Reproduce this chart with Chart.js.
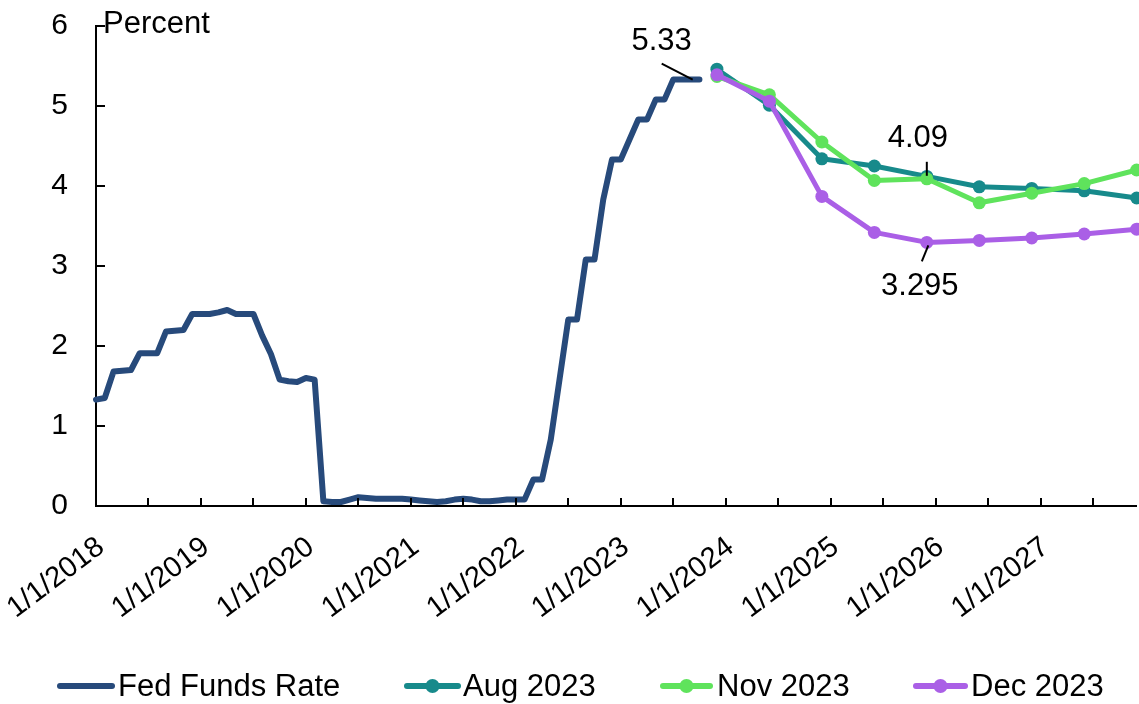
<!DOCTYPE html>
<html>
<head>
<meta charset="utf-8">
<script src="https://cdn.jsdelivr.net/npm/chart.js@4.4.0/dist/chart.umd.min.js"></script>
<style>
  html, body { margin: 0; padding: 0; background: #ffffff; }
  canvas { display: block; }
</style>
</head>
<body>
<canvas id="chart" width="1139" height="704"></canvas>
<script>
// ---------------- DATA ----------------
const startYear = 2018;          // month index 0 = Jan 2018
const lastMonthIndex = 119;      // Dec 2027

// Fed Funds Rate, monthly, Jan 2018 .. Oct 2023 (percent)
const ffrValues = [
  1.33, 1.35, 1.68, 1.69, 1.70, 1.91, 1.91, 1.91, 2.18, 2.19, 2.20, 2.40,
  2.40, 2.40, 2.42, 2.45, 2.40, 2.40, 2.40, 2.13, 1.90, 1.58, 1.56, 1.55,
  1.60, 1.58, 0.06, 0.05, 0.05, 0.08, 0.11, 0.10, 0.09, 0.09, 0.09, 0.09,
  0.08, 0.07, 0.06, 0.05, 0.06, 0.08, 0.09, 0.08, 0.06, 0.06, 0.07, 0.08,
  0.08, 0.08, 0.33, 0.33, 0.83, 1.58, 2.33, 2.33, 3.08, 3.08, 3.83, 4.33,
  4.33, 4.58, 4.83, 4.83, 5.08, 5.08, 5.33, 5.33, 5.33, 5.33
];

// Projection dates (year-month)
const forecastDates = ['2023-12', '2024-06', '2024-12', '2025-06', '2025-12',
                       '2026-06', '2026-12', '2027-06', '2027-12'];
const aug2023 = [5.46, 5.01, 4.34, 4.25, 4.12, 3.99, 3.97, 3.94, 3.85];
const nov2023 = [5.37, 5.14, 4.55, 4.07, 4.09, 3.79, 3.91, 4.03, 4.20];
const dec2023 = [5.39, 5.06, 3.87, 3.42, 3.295, 3.32, 3.35, 3.40, 3.46];

const seriesNames = ['Fed Funds Rate', 'Aug 2023', 'Nov 2023', 'Dec 2023'];
const xTickLabels = ['1/1/2018', '1/1/2019', '1/1/2020', '1/1/2021', '1/1/2022',
                     '1/1/2023', '1/1/2024', '1/1/2025', '1/1/2026', '1/1/2027'];
const yTickValues = [0, 1, 2, 3, 4, 5, 6];
const yAxisTitle = 'Percent';

// Callouts: [series index, date, value text]
const callouts = [
  { series: 0, date: '2023-09', text: '5.33' },
  { series: 2, date: '2025-12', text: '4.09' },
  { series: 3, date: '2025-12', text: '3.295' }
];

// ---------------- STYLE ----------------
const FONT = '"Liberation Sans", Arial, Helvetica, sans-serif';
const colors = ['#274A7B', '#178A8B', '#5FE35C', '#AA5FE6'];

function monthIndex(s) {
  const parts = s.split('-').map(Number);
  return (parts[0] - startYear) * 12 + (parts[1] - 1);
}

const ffrPoints = ffrValues.map((v, i) => ({ x: i, y: v }));
const fcX = forecastDates.map(monthIndex);
const toPts = arr => arr.map((v, i) => ({ x: fcX[i], y: v }));

const datasets = [
  { label: seriesNames[0], data: ffrPoints, borderColor: colors[0], backgroundColor: colors[0],
    borderWidth: 6, pointRadius: 0, order: 0 },
  { label: seriesNames[1], data: toPts(aug2023), borderColor: colors[1], backgroundColor: colors[1],
    borderWidth: 5, pointRadius: 6.5, pointBorderWidth: 0, order: 3 },
  { label: seriesNames[2], data: toPts(nov2023), borderColor: colors[2], backgroundColor: colors[2],
    borderWidth: 5, pointRadius: 6.5, pointBorderWidth: 0, order: 2 },
  { label: seriesNames[3], data: toPts(dec2023), borderColor: colors[3], backgroundColor: colors[3],
    borderWidth: 5, pointRadius: 6.5, pointBorderWidth: 0, order: 1 }
];
datasets.forEach(d => {
  d.tension = 0; d.fill = false; d.clip = false;
  d.borderJoinStyle = 'round'; d.borderCapStyle = 'round';
  d.pointBackgroundColor = d.borderColor; d.pointHoverRadius = d.pointRadius;
});

// ---------------- DECORATION PLUGIN ----------------
const decor = {
  id: 'decor',
  afterDraw(chart) {
    const ctx = chart.ctx;
    const xs = chart.scales.x, ys = chart.scales.y;
    const area = chart.chartArea;
    ctx.save();
    ctx.strokeStyle = '#000';
    ctx.lineWidth = 2;
    // inward ticks on y axis
    yTickValues.forEach(v => {
      if (v === 0) return;
      const py = Math.round(ys.getPixelForValue(v));
      ctx.beginPath(); ctx.moveTo(area.left, py); ctx.lineTo(area.left + 9, py); ctx.stroke();
    });
    // inward ticks on x axis (every 6 months)
    for (let m = 6; m < lastMonthIndex; m += 6) {
      const px = Math.round(xs.getPixelForValue(m));
      ctx.beginPath(); ctx.moveTo(px, area.bottom); ctx.lineTo(px, area.bottom - 8); ctx.stroke();
    }
    // axis title
    ctx.fillStyle = '#000';
    ctx.font = '31px ' + FONT;
    ctx.textAlign = 'left'; ctx.textBaseline = 'alphabetic';
    ctx.fillText(yAxisTitle, area.left + 7, 33);

    // callouts
    const layouts = [
      { l0: [2, 0], l1: [-29, -16], t: [-29, -38] },
      { l0: [0, -3], l1: [0, -17], t: [-9, -40] },
      { l0: [1.5, 3], l1: [-5, 19], t: [-7, 44] }
    ];
    ctx.lineWidth = 2;
    ctx.font = '31px ' + FONT;
    ctx.textAlign = 'center'; ctx.textBaseline = 'middle';
    callouts.forEach((c, i) => {
      const ds = chart.data.datasets[c.series];
      const mx = monthIndex(c.date);
      const pt = ds.data.find(p => p.x === mx);
      const px = xs.getPixelForValue(pt.x), py = ys.getPixelForValue(pt.y);
      const L = layouts[i];
      ctx.beginPath();
      ctx.moveTo(px + L.l0[0], py + L.l0[1]);
      ctx.lineTo(px + L.l1[0], py + L.l1[1]);
      ctx.stroke();
      ctx.fillText(c.text, px + L.t[0], py + L.t[1]);
    });

    // legend
    const legendY = 686;
    const legendPos = [[57, 115, 118], [404, 461, 463], [660, 713, 717], [913, 968, 971]];
    ctx.textAlign = 'left'; ctx.textBaseline = 'middle';
    chart.data.datasets.forEach((ds, i) => {
      const p = legendPos[i];
      ctx.strokeStyle = ds.borderColor;
      ctx.lineWidth = 6; ctx.lineCap = 'round';
      ctx.beginPath(); ctx.moveTo(p[0] + 3, legendY); ctx.lineTo(p[1] - 3, legendY); ctx.stroke();
      if (ds.pointRadius > 0) {
        ctx.fillStyle = ds.borderColor;
        ctx.beginPath(); ctx.arc((p[0] + p[1]) / 2, legendY, 7, 0, Math.PI * 2); ctx.fill();
      }
      ctx.fillStyle = '#000';
      ctx.fillText(ds.label, p[2], legendY + 1);
    });
    ctx.restore();
  }
};

new Chart(document.getElementById('chart'), {
  type: 'line',
  data: { datasets },
  plugins: [decor],
  options: {
    responsive: false,
    animation: false,
    devicePixelRatio: 1,
    layout: { autoPadding: false, padding: { left: 0, right: 2.3, top: 26, bottom: 0 } },
    plugins: { legend: { display: false }, tooltip: { enabled: false } },
    scales: {
      x: {
        type: 'linear', min: 0, max: lastMonthIndex,
        afterFit(s) { s.height = 198; s.paddingLeft = 0; s.paddingRight = 0; },
        grid: { display: false, drawTicks: false },
        border: { display: true, color: '#000', width: 2 },
        ticks: {
          stepSize: 6, autoSkip: false, maxRotation: 37, minRotation: 37,
          padding: 24, labelOffset: 5, color: '#000',
          font: { family: FONT, size: 29 },
          callback: v => (v % 12 === 0 && v / 12 < xTickLabels.length) ? xTickLabels[v / 12] : null
        }
      },
      y: {
        min: 0, max: 6,
        afterFit(s) { s.width = 96; s.paddingTop = 0; s.paddingBottom = 0; },
        grid: { display: false, drawTicks: false },
        border: { display: true, color: '#000', width: 2 },
        ticks: {
          stepSize: 1, padding: 28, color: '#000',
          font: { family: FONT, size: 30 },
          callback: v => yTickValues.includes(v) ? String(v) : null
        }
      }
    }
  }
});
</script>
</body>
</html>
